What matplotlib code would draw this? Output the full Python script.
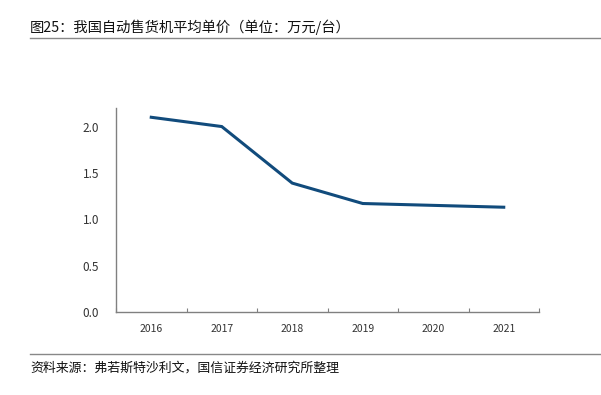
import matplotlib
matplotlib.use('Agg')
import matplotlib.pyplot as plt
import numpy as np

plt.rcParams['font.family'] = ['Noto Sans CJK SC', 'DejaVu Sans']

years = ['2016', '2017', '2018', '2019', '2020', '2021']
price = [2.10, 2.00, 1.39, 1.17, 1.15, 1.13]
yticks = [0.0, 0.5, 1.0, 1.5, 2.0]

fig = plt.figure(figsize=(6.01, 3.95), dpi=100)
ax = fig.add_axes([116/601, 1-312/395, (539-116)/601, (312-108)/395])

x = np.arange(len(years))
ax.plot(x, price, color='#114b7c', lw=2.2, solid_joinstyle='miter')

ax.set_xlim(-0.5, len(years) - 0.5)
ax.set_ylim(0, 2.2)
ax.set_yticks(yticks)
ax.set_yticklabels(['%.1f' % v for v in yticks], fontsize=8.5, color='#333333')
ax.tick_params(axis='y', length=0, pad=12)

# category labels centred, ticks on the boundaries
ax.set_xticks(np.arange(len(years) + 1) - 0.5)
ax.set_xticklabels([])
ax.tick_params(axis='x', direction='in', length=3, color='#808080')
for i, yr in enumerate(years):
    ax.text(i, -0.06, yr, ha='center', va='top', fontsize=7.5, color='#333333',
            transform=ax.get_xaxis_transform())

for s in ['top', 'right']:
    ax.spines[s].set_visible(False)
for s in ['left', 'bottom']:
    ax.spines[s].set_color('#808080')
    ax.spines[s].set_linewidth(1)

fig.text(30/601, 1-27/395, '图25：我国自动售货机平均单价（单位：万元/台）',
         fontsize=10.3, va='center', ha='left', color='#111111')
fig.add_artist(plt.Line2D([30/601, 1], [1-38/395, 1-38/395], color='#888888', lw=1))
fig.add_artist(plt.Line2D([30/601, 1], [1-354/395, 1-354/395], color='#888888', lw=1))
fig.text(30/601, 1-368/395, '资料来源：弗若斯特沙利文，国信证券经济研究所整理',
         fontsize=9.3, va='center', ha='left', color='#111111')

fig.savefig('out.png', dpi=100)
